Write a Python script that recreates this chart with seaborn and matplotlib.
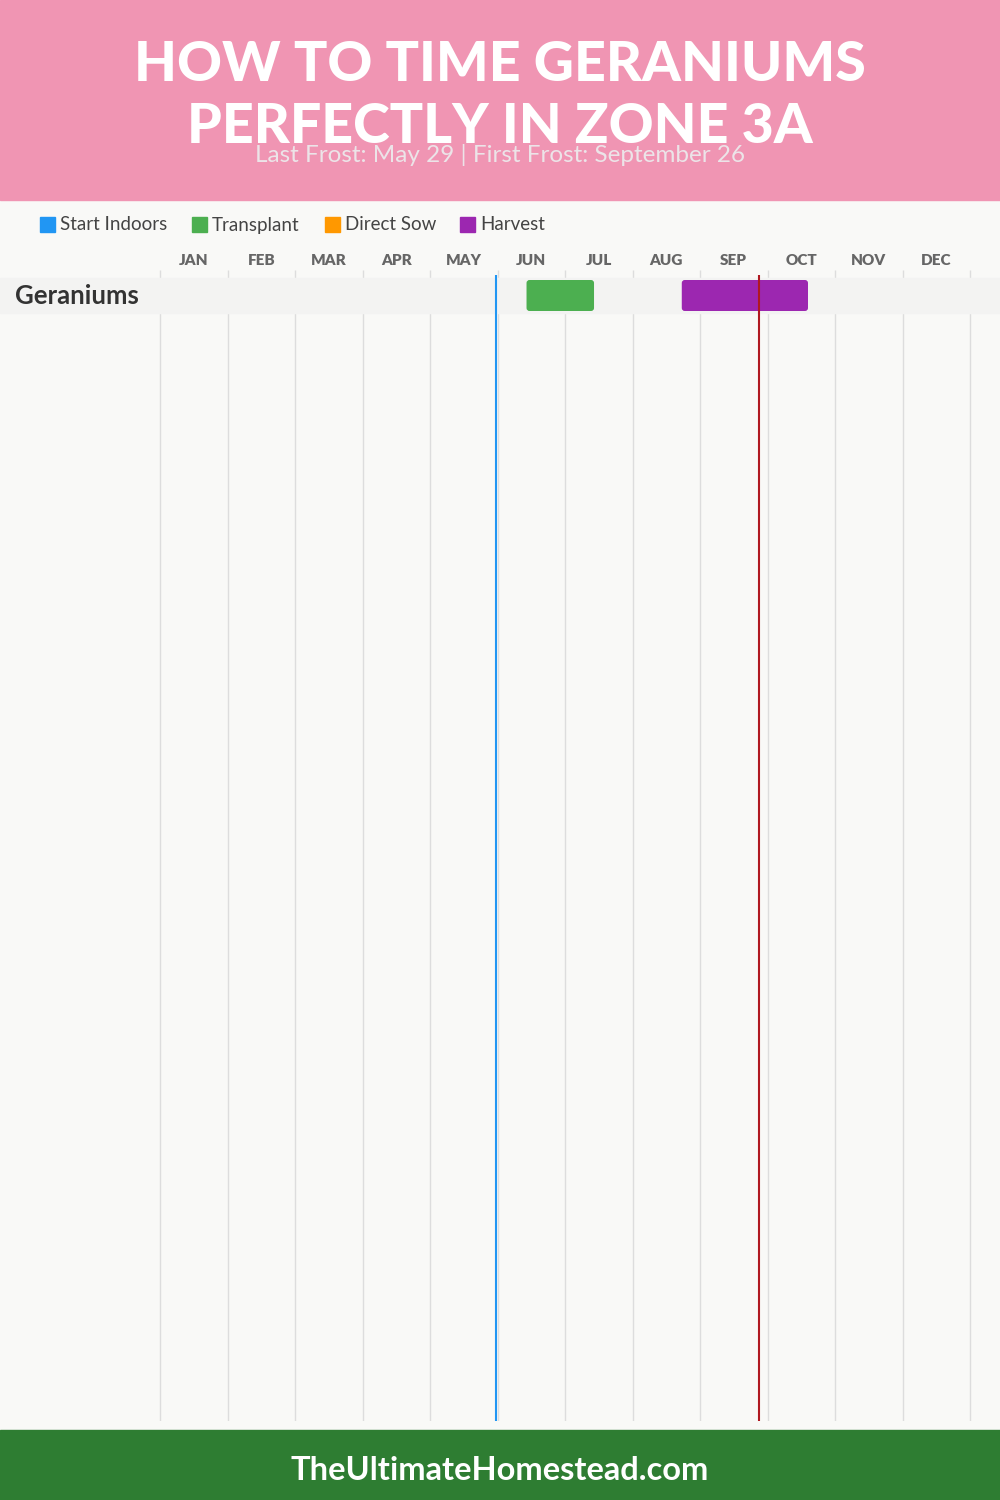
import numpy as np
import pandas as pd
import seaborn as sns
import matplotlib.pyplot as plt
from matplotlib.patches import Rectangle, FancyBboxPatch

# chart data
months = ['JAN', 'FEB', 'MAR', 'APR', 'MAY', 'JUN',
          'JUL', 'AUG', 'SEP', 'OCT', 'NOV', 'DEC']
crops = ['Geraniums']
stages = ['Start Indoors', 'Transplant', 'Direct Sow', 'Harvest']
stage_colors = ['#2196F3', '#4CAF50', '#FF9800', '#9C27B0']

# stage windows in months from Jan 1
bar_crop = ['Geraniums', 'Geraniums']
bar_stage = ['Transplant', 'Harvest']
bar_start = [5.43, 7.73]
bar_end = [6.43, 9.60]

last_frost = 4.98   # May 29
first_frost = 8.87  # September 26

title = 'HOW TO TIME GERANIUMS\nPERFECTLY IN ZONE 3A'
subtitle = 'Last Frost: May 29 | First Frost: September 26'
footer = 'TheUltimateHomestead.com'

df = pd.DataFrame({'crop': bar_crop, 'stage': bar_stage,
                   'start': bar_start, 'end': bar_end})
palette = dict(zip(stages, stage_colors))

sns.set_theme(style='white')
plt.rcParams['font.family'] = ['Lato', 'DejaVu Sans']

W, H = 1000, 1500
fig = plt.figure(figsize=(10, 15), dpi=100)
fig.patch.set_facecolor('#F9F9F7')

def fx(px):
    return px / W

def fy(py):
    return 1 - py / H

# header and footer bands
fig.patches.append(Rectangle((0, fy(200)), 1, 200 / H, transform=fig.transFigure,
                             color='#F095B3', zorder=0))
fig.patches.append(Rectangle((0, 0), 1, 70 / H, transform=fig.transFigure,
                             color='#2E7D32', zorder=0))

for line, base in zip(title.split('\n'), [81, 143]):
    fig.text(0.5, fy(base), line, ha='center', va='baseline', color='white',
             fontsize=40, fontweight='black')
fig.text(0.5, fy(162), subtitle, ha='center', va='baseline', color='#ECE4E8',
         fontsize=17.5, fontweight='normal')
fig.text(0.5, fy(1471), footer, ha='center', va='center', color='white',
         fontsize=23.5, fontweight='bold')

# axes: full width, month grid from x=160px to x=970px
px_per_month = 67.5
row_px = 35
ax_top, ax_bot = 270, 1421
ax = fig.add_axes([0, fy(ax_bot), 1, (ax_bot - ax_top) / H])
ax.set_facecolor('none')
ax.set_xlim(-160 / px_per_month, 12 + 30 / px_per_month)
y_top = -(295.5 - ax_top) / row_px
y_bot = (ax_bot - 295.5) / row_px
ax.set_ylim(y_bot, y_top)
for s in ax.spines.values():
    s.set_visible(False)
ax.set_yticks([])

# month labels on top, grid at month boundaries
ax.xaxis.tick_top()
ax.set_xticks(np.arange(12) + 0.5, months)
ax.tick_params(axis='x', length=0, pad=2, labelsize=11, labelcolor='#666666')
for lab in ax.get_xticklabels():
    lab.set_fontweight('heavy')
ax.vlines(np.arange(13), y_top, y_bot, color='#DDDDDD', lw=1, zorder=1)

# crop rows
for i, crop in enumerate(crops):
    ax.axhspan(i - 0.5, i + 0.5, color='#F3F3F2', zorder=2)
    fig.text(fx(15), fy(296 + i * row_px), crop, ha='left', va='center',
             fontsize=18.5, fontweight='bold', color='#333333')

# stage bars with rounded corners
bar_h = 31 / row_px
aspect = (1 / row_px) / (1 / px_per_month)
for _, r in df.iterrows():
    i = crops.index(r['crop'])
    ax.add_patch(FancyBboxPatch((r['start'], i - bar_h / 2), r['end'] - r['start'], bar_h,
                                boxstyle='round,pad=0,rounding_size=%f' % (3 / px_per_month),
                                mutation_aspect=aspect, color=palette[r['stage']],
                                lw=0, zorder=3))

# frost dates
ax.vlines(last_frost, y_top + 5 / row_px, y_bot, color='#2196F3', lw=1.5, zorder=4)
ax.vlines(first_frost, y_top + 5 / row_px, y_bot, color='#B01820', lw=1.5, zorder=4)

# legend
leg_x = [40, 192, 325, 460]
for x, name, col in zip(leg_x, stages, stage_colors):
    fig.patches.append(Rectangle((fx(x), fy(232)), 15 / W, 15 / H,
                                 transform=fig.transFigure, color=col))
    fig.text(fx(x + 20), fy(225), name, ha='left', va='center',
             fontsize=13.5, color='#444444')

fig.savefig('out.png', dpi=100, facecolor=fig.get_facecolor())
